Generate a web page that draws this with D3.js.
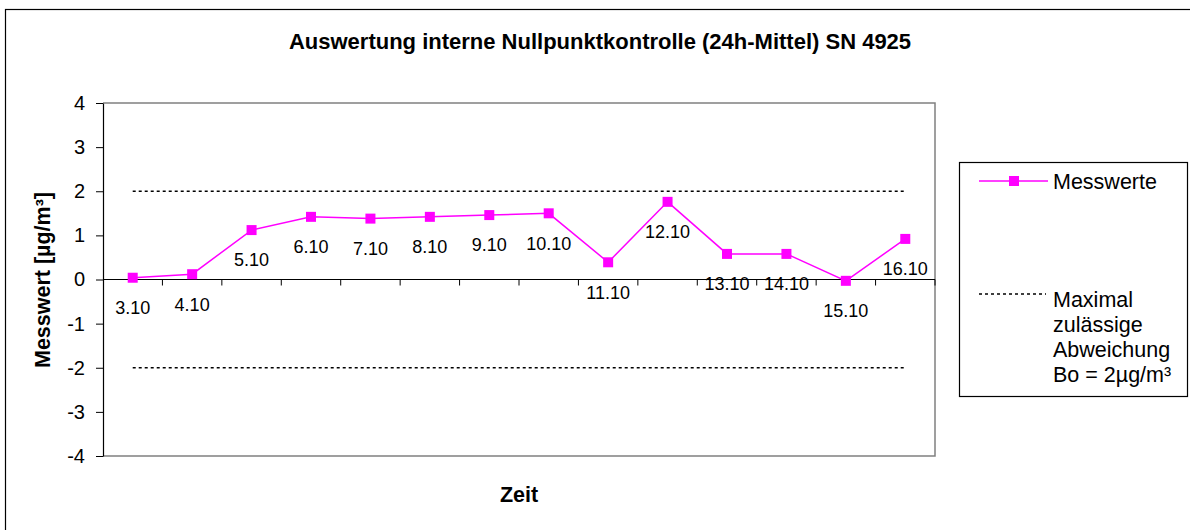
<!DOCTYPE html>
<html>
<head>
<meta charset="utf-8">
<script src="https://cdn.jsdelivr.net/npm/d3@7"></script>
<style>
  body { margin: 0; background: #fff; }
  text { font-family: "Liberation Sans", Arial, sans-serif; }
</style>
</head>
<body>
<svg id="chart" width="1190" height="530"></svg>
<script>
var categories = ["3.10", "4.10", "5.10", "6.10", "7.10", "8.10", "9.10", "10.10", "11.10", "12.10", "13.10", "14.10", "15.10", "16.10"];
var messwerte = [0.04, 0.12, 1.12, 1.42, 1.38, 1.42, 1.46, 1.50, 0.39, 1.76, 0.58, 0.58, -0.03, 0.92];
var limits = [2, -2];
var yTicks = [-4, -3, -2, -1, 0, 1, 2, 3, 4];

var svg = d3.select("#chart");

var margin = { top: 103, left: 103, right: 935, bottom: 456 };

// outer chart frame (runs off the picture right/bottom)
svg.append("rect")
  .attr("x", 5.5).attr("y", 9.5)
  .attr("width", 1200).attr("height", 540)
  .attr("fill", "none").attr("stroke", "#000").attr("stroke-width", 1.2);

var x = d3.scaleBand()
  .domain(categories)
  .range([margin.left, margin.right])
  .padding(0);

var y = d3.scaleLinear()
  .domain([-4, 4])
  .range([margin.bottom, margin.top]);

// plot frame (gray)
svg.append("path")
  .attr("d", "M" + margin.left + "," + margin.top + "H" + margin.right + "V" + margin.bottom + "H" + margin.left)
  .attr("fill", "none").attr("stroke", "#808080").attr("stroke-width", 1.5);

// y axis
var yAxis = d3.axisLeft(y).tickValues(yTicks).tickSize(7).tickSizeOuter(0)
  .tickFormat(function(d) { return String(d); });
var gy = svg.append("g")
  .attr("transform", "translate(" + margin.left + ",0)")
  .call(yAxis);
gy.select(".domain").attr("stroke", "#000").attr("stroke-width", 1.2);
gy.selectAll(".tick line").attr("stroke", "#000");
gy.selectAll(".tick text")
  .attr("x", -18)
  .attr("font-size", 20)
  .attr("font-family", "Liberation Sans, Arial, sans-serif")
  .attr("fill", "#000");

// x axis at zero, ticks between categories
var bounds = categories.slice(1).map(function(c) { return x(c); }).concat([margin.right]);
var gx = svg.append("g");
gx.append("line")
  .attr("x1", margin.left).attr("x2", margin.right)
  .attr("y1", y(0)).attr("y2", y(0))
  .attr("stroke", "#000").attr("stroke-width", 1.2);
gx.selectAll("line.tk")
  .data(bounds)
  .enter().append("line")
  .attr("class", "tk")
  .attr("x1", function(d) { return d; }).attr("x2", function(d) { return d; })
  .attr("y1", y(0)).attr("y2", y(0) + 6)
  .attr("stroke", "#000");

// limit lines
var cx = function(c) { return x(c) + x.bandwidth() / 2; };
svg.selectAll("line.limit")
  .data(limits)
  .enter().append("line")
  .attr("class", "limit")
  .attr("x1", cx(categories[0]))
  .attr("x2", cx(categories[categories.length - 1]))
  .attr("y1", function(d) { return y(d); })
  .attr("y2", function(d) { return y(d); })
  .attr("stroke", "#000").attr("stroke-width", 1.5)
  .attr("stroke-dasharray", "3,3");

// series
var line = d3.line()
  .x(function(d, i) { return cx(categories[i]); })
  .y(function(d) { return y(d); });

svg.append("path")
  .datum(messwerte)
  .attr("d", line)
  .attr("fill", "none").attr("stroke", "#FF00FF").attr("stroke-width", 1.5);

svg.selectAll("rect.pt")
  .data(messwerte)
  .enter().append("rect")
  .attr("class", "pt")
  .attr("x", function(d, i) { return cx(categories[i]) - 5; })
  .attr("y", function(d) { return y(d) - 5; })
  .attr("width", 10).attr("height", 10)
  .attr("fill", "#FF00FF");

// data labels (category names below points)
svg.selectAll("text.lbl")
  .data(messwerte)
  .enter().append("text")
  .attr("class", "lbl")
  .attr("x", function(d, i) { return cx(categories[i]); })
  .attr("y", function(d) { return y(d) + 30; })
  .attr("dy", "0.35em")
  .attr("text-anchor", "middle")
  .attr("font-size", 18)
  .attr("fill", "#000")
  .text(function(d, i) { return categories[i]; });

// title + axis titles
svg.append("text")
  .attr("x", 600).attr("y", 49)
  .attr("text-anchor", "middle")
  .attr("font-size", 22).attr("font-weight", "bold")
  .text("Auswertung interne Nullpunktkontrolle (24h-Mittel) SN 4925");

svg.append("text")
  .attr("x", 519).attr("y", 502)
  .attr("text-anchor", "middle")
  .attr("font-size", 21.5).attr("font-weight", "bold")
  .text("Zeit");

svg.append("text")
  .attr("transform", "translate(50,280) rotate(-90)")
  .attr("text-anchor", "middle")
  .attr("font-size", 21.5).attr("font-weight", "bold")
  .text("Messwert [µg/m³]");

// legend
var lg = svg.append("g");
lg.append("rect")
  .attr("x", 959.5).attr("y", 162.5)
  .attr("width", 228).attr("height", 234)
  .attr("fill", "#fff").attr("stroke", "#000").attr("stroke-width", 1.2);
lg.append("line")
  .attr("x1", 979).attr("x2", 1048).attr("y1", 181).attr("y2", 181)
  .attr("stroke", "#FF00FF").attr("stroke-width", 1.5);
lg.append("rect")
  .attr("x", 1009).attr("y", 176).attr("width", 10).attr("height", 10)
  .attr("fill", "#FF00FF");
lg.append("text")
  .attr("x", 1053).attr("y", 189)
  .attr("font-size", 21.5)
  .text("Messwerte");
lg.append("line")
  .attr("x1", 979).attr("x2", 1046).attr("y1", 294).attr("y2", 294)
  .attr("stroke", "#000").attr("stroke-width", 1.5)
  .attr("stroke-dasharray", "3,3");
var legendLines = ["Maximal", "zulässige", "Abweichung", "Bo = 2µg/m³"];
lg.selectAll("text.ll")
  .data(legendLines)
  .enter().append("text")
  .attr("class", "ll")
  .attr("x", 1053)
  .attr("y", function(d, i) { return 307 + i * 25; })
  .attr("font-size", 21.5)
  .text(function(d) { return d; });
</script>
</body>
</html>
